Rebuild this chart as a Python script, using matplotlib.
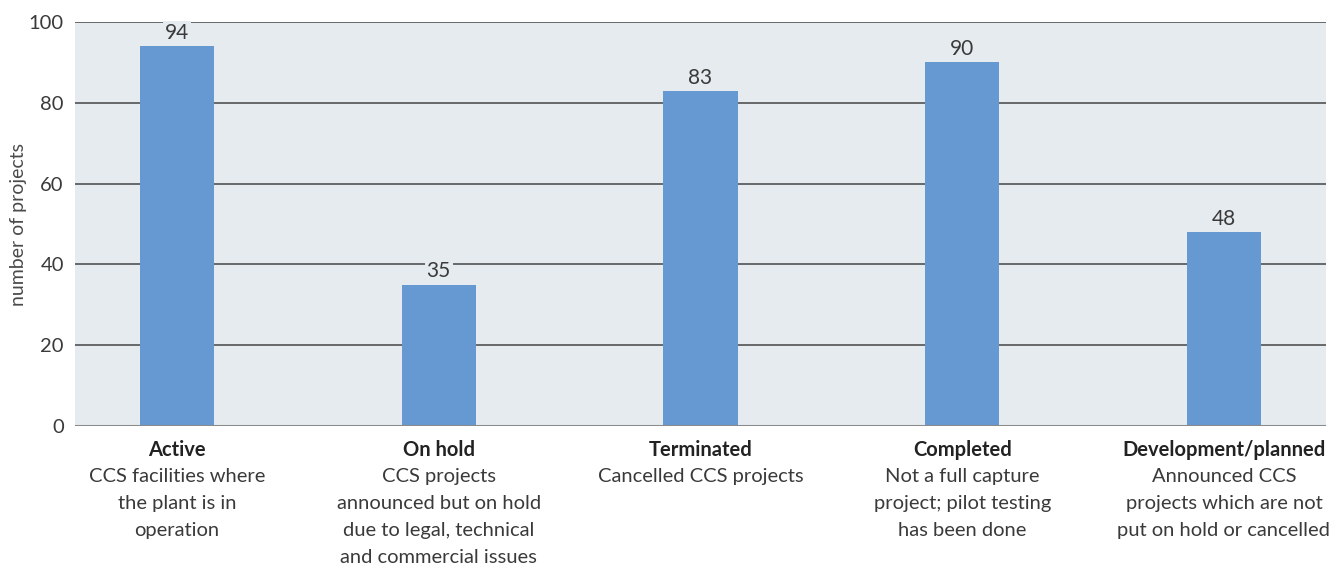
import matplotlib
matplotlib.use("Agg")
import matplotlib.pyplot as plt
import numpy as np

# data
categories = ["Active", "On hold", "Terminated", "Completed", "Development/planned"]
descriptions = [
    "CCS facilities where\nthe plant is in\noperation",
    "CCS projects\nannounced but on hold\ndue to legal, technical\nand commercial issues",
    "Cancelled CCS projects",
    "Not a full capture\nproject; pilot testing\nhas been done",
    "Announced CCS\nprojects which are not\nput on hold or cancelled",
]
values = [94, 35, 83, 90, 48]
yticks = [0, 20, 40, 60, 80, 100]

bg = "#e6ebf0"
barColor = "#6699d2"
txtColor = "#3a3a3a"

plt.rcParams['font.family'] = ['Lato', 'DejaVu Sans']

fig = plt.figure(figsize=(13.41, 5.66), dpi=100)
ax = fig.add_axes([0.0559, 0.2473, 0.9329, 0.7138])
ax.set_facecolor(bg)

x = np.arange(len(categories))
ax.bar(x, values, width=0.283, color=barColor, zorder=3)

# gridlines
for t in yticks[1:]:
    ax.axhline(t, color="#454545", linewidth=1.1, zorder=1)
ax.axhline(0, color="#8a8a8a", linewidth=2.2, zorder=4)

ax.set_xlim(-0.39, 4.39)
ax.set_ylim(0, 100)
ax.set_yticks(yticks)
ax.set_yticklabels([str(t) for t in yticks], fontsize=14.5, color=txtColor)
ax.tick_params(axis='y', length=0, pad=8)
ax.set_xticks([])
for s in ax.spines.values():
    s.set_visible(False)
ax.set_ylabel("number of projects", fontsize=14, color="#4a4a4a")
ax.yaxis.set_label_coords(-0.038, 0.5)

# value labels above bars
for xi, v in zip(x, values):
    ax.annotate(str(v), xy=(xi, v), xytext=(0, 9.5), textcoords="offset points",
                ha="center", va="center", fontsize=15, color=txtColor, zorder=2,
                bbox=dict(boxstyle="square,pad=0.1", facecolor=bg, edgecolor="none"))

# category labels under the axis
trans = ax.get_xaxis_transform()
for xi, cat, desc in zip(x, categories, descriptions):
    ax.annotate(cat, xy=(xi, 0), xycoords=trans, xytext=(0, -17), textcoords="offset points",
                ha="center", va="center", fontsize=14.5, fontweight="bold", color="#222222",
                annotation_clip=False)
    ax.annotate(desc, xy=(xi, 0), xycoords=trans, xytext=(0, -30), textcoords="offset points",
                ha="center", va="top", fontsize=14.5, color=txtColor, linespacing=1.72,
                annotation_clip=False)

fig.savefig("out.png", dpi=100, facecolor="white")
